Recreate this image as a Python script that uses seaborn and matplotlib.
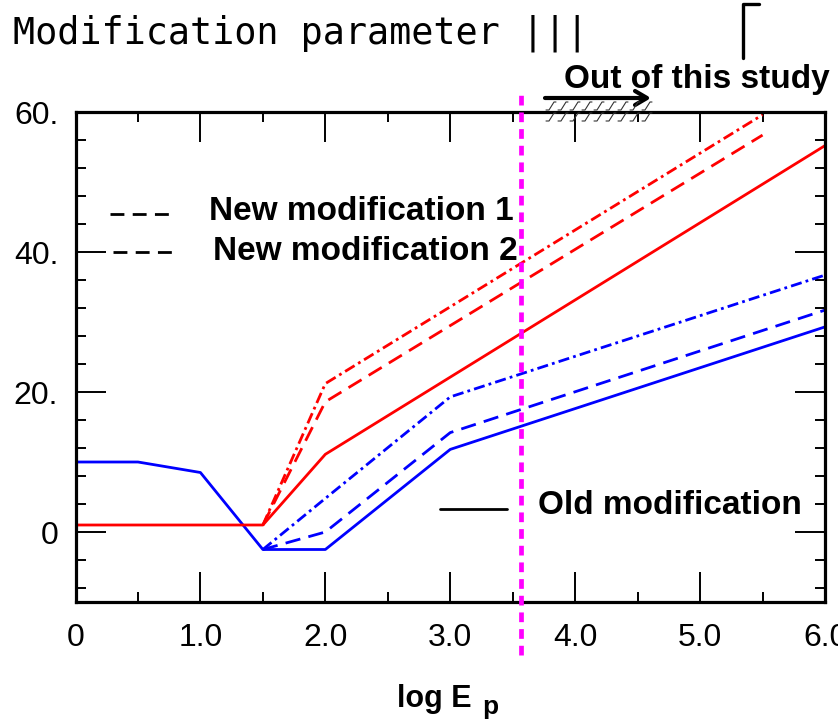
import numpy as np
import pandas as pd
import matplotlib
matplotlib.use("Agg")
import matplotlib.pyplot as plt
from matplotlib.lines import Line2D
from matplotlib.ticker import FixedLocator, MultipleLocator, FixedFormatter
import seaborn as sns

# ---- data: modification parameter vs log E_p ----
old_blue_x = [0.0, 0.5, 1.0, 1.5, 2.0, 3.0, 6.0]
old_blue_y = [10.0, 10.0, 8.5, -2.5, -2.5, 11.8, 29.3]

old_red_x = [0.0, 1.5, 2.0, 6.0]
old_red_y = [1.0, 1.0, 11.1, 55.2]

new1_red_x = [1.5, 2.0, 5.5]
new1_red_y = [1.0, 18.6, 56.7]

new2_red_x = [1.5, 2.0, 5.5]
new2_red_y = [1.0, 21.2, 59.6]

new1_blue_x = [1.5, 2.0, 3.0, 6.0]
new1_blue_y = [-2.5, 0.0, 14.2, 31.7]

new2_blue_x = [1.5, 2.0, 3.0, 6.0]
new2_blue_y = [-2.5, 4.8, 19.3, 36.7]

study_limit = 3.57  # log E_p boundary of this study

x_ticks = [0, 1, 2, 3, 4, 5, 6]
x_tick_labels = ["0", "1.0", "2.0", "3.0", "4.0", "5.0", "6.0"]
y_ticks = [0, 20, 40, 60]
y_tick_labels = ["0", "20.", "40.", "60."]

sns.set_style("ticks")
plt.rcParams["font.family"] = ["Liberation Sans", "DejaVu Sans"]
plt.rcParams["lines.scale_dashes"] = False
for key in ("text.color", "axes.labelcolor", "xtick.color", "ytick.color",
            "axes.edgecolor"):
    plt.rcParams[key] = "black"

W, H = 838, 727
fig = plt.figure(figsize=(W / 100, H / 100), dpi=100)
ax = fig.add_axes([75.5 / W, 1 - 602 / H, 749.5 / W, 490 / H])

DASH = (0, (11, 6))
DASHDOT = (0, (8, 3, 2, 3))
LW = 2.0

series = [
    (old_blue_x, old_blue_y, "#0000ff", "-"),
    (old_red_x, old_red_y, "#ff0000", "-"),
    (new1_red_x, new1_red_y, "#ff0000", DASH),
    (new2_red_x, new2_red_y, "#ff0000", DASHDOT),
    (new1_blue_x, new1_blue_y, "#0000ff", DASH),
    (new2_blue_x, new2_blue_y, "#0000ff", DASHDOT),
]
for xs, ys, col, ls in series:
    df = pd.DataFrame({"logE": xs, "param": ys})
    sns.lineplot(data=df, x="logE", y="param", color=col, linestyle=ls,
                 linewidth=LW, sort=False, estimator=None, legend=False, ax=ax)

# boundary of the study range
ax.plot([study_limit, study_limit], [-17.5, 63.0], color="#ff00ff",
        linewidth=3.4, linestyle=(0, (7, 5)), clip_on=False, zorder=5)

ax.set_xlim(0, 6)
ax.set_ylim(-10, 60)
ax.xaxis.set_major_locator(FixedLocator(x_ticks))
ax.xaxis.set_major_formatter(FixedFormatter(x_tick_labels))
ax.xaxis.set_minor_locator(MultipleLocator(0.5))
ax.yaxis.set_major_locator(FixedLocator(y_ticks))
ax.yaxis.set_major_formatter(FixedFormatter(y_tick_labels))
ax.yaxis.set_minor_locator(MultipleLocator(4))
ax.tick_params(which="both", direction="in", top=True, right=True,
               width=1.4, color="black", labelcolor="black")
ax.tick_params(which="major", length=21.5, labelsize=23)
ax.tick_params(which="minor", length=7)
ax.tick_params(axis="x", which="major", pad=15)
ax.tick_params(axis="y", which="major", pad=12.5)
for s in ax.spines.values():
    s.set_linewidth(2.3)
    s.set_color("black")
ax.set_xlabel("")
ax.set_ylabel("")

# legend entries
bold = dict(fontsize=24, fontweight="bold", color="black", va="center", ha="left")
ax.add_line(Line2D([0.046, 0.126], [0.792, 0.792], transform=ax.transAxes,
                   color="black", lw=2.0, linestyle=(0, (10, 6))))
ax.text(0.178, 0.796, "New modification 1", transform=ax.transAxes, **bold)
ax.add_line(Line2D([0.050, 0.130], [0.714, 0.714], transform=ax.transAxes,
                   color="black", lw=2.0, linestyle=(0, (10, 6))))
ax.text(0.1835, 0.716, "New modification 2", transform=ax.transAxes, **bold)
ax.add_line(Line2D([0.486, 0.576], [0.190, 0.190], transform=ax.transAxes,
                   color="black", lw=2.0))
ax.text(0.617, 0.196, "Old modification", transform=ax.transAxes, **bold)


def fx(px):
    return px / W


def fy(py):
    return 1 - py / H


# x-axis label with subscript p
fig.text(fx(397), fy(707), "log E", fontsize=22, fontweight="bold", ha="left",
         va="baseline", color="black")
fig.text(fx(482), fy(714), "p", fontsize=19, fontweight="bold", ha="left",
         va="baseline", color="black")

# title
fig.text(fx(13), fy(44), "Modification parameter |||", fontsize=26.5,
         family=["DejaVu Sans Mono"], ha="left", va="baseline", color="black")
fig.add_artist(Line2D([fx(743), fx(743), fx(759)], [fy(58), fy(4), fy(4)],
                      color="black", lw=2.4, transform=fig.transFigure))

# "out of this study" annotation with arrow and hatched strip
fig.text(fx(830), fy(88), "Out of this study", fontsize=24, fontweight="bold",
         ha="right", va="baseline", color="black")
fig.add_artist(Line2D([fx(545), fx(646)], [fy(98), fy(98)], color="black", lw=3.0,
                      transform=fig.transFigure))
fig.add_artist(Line2D([fx(635), fx(647), fx(635)], [fy(91), fy(98), fy(105)],
                      color="black", lw=3.0, transform=fig.transFigure))
for row_top, row_bot in [(102, 110), (113, 121)]:
    for px in np.arange(546, 646, 12):
        fig.add_artist(Line2D([fx(px), fx(px + 3), fx(px + 8), fx(px + 10)],
                              [fy(row_bot), fy(row_bot), fy(row_top), fy(row_top)],
                              color="#333333", lw=0.8, transform=fig.transFigure))

fig.savefig("out.png", dpi=100)
